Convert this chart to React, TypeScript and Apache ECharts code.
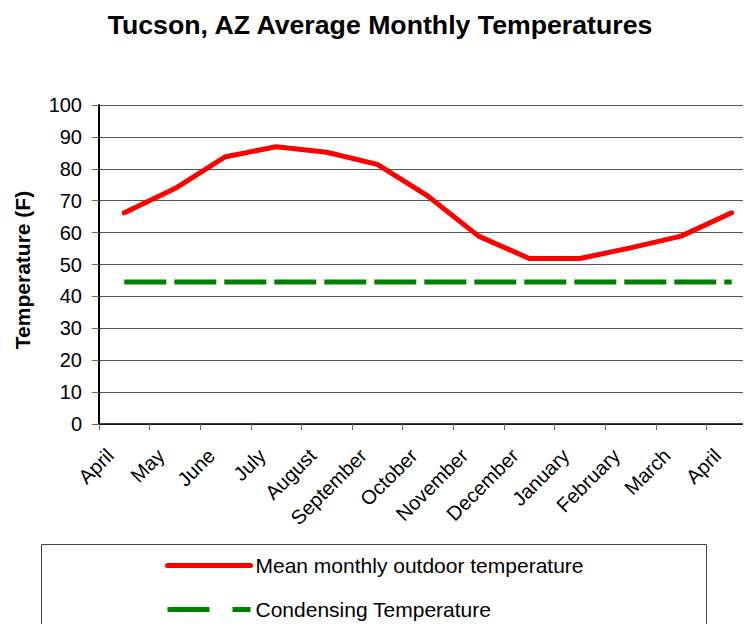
import React, { useEffect, useRef } from "react";
import * as echarts from "echarts";

const categories = [
  "April", "May", "June", "July", "August", "September", "October",
  "November", "December", "January", "February", "March", "April",
];
const meanTemps = [66.2, 73.8, 83.8, 86.9, 85.2, 81.4, 71.4, 58.9, 51.9, 51.9, 55.2, 58.9, 66.2];
const condensingTemps = [44.5, 44.5, 44.5, 44.5, 44.5, 44.5, 44.5, 44.5, 44.5, 44.5, 44.5, 44.5, 44.5];
const yTicks = { min: 0, max: 100, interval: 10 };

const FONT = "'Liberation Sans', Arial, Helvetica, sans-serif";

export default function App() {
  const ref = useRef<HTMLDivElement>(null);
  useEffect(() => {
    if (!ref.current) return;
    const chart = echarts.init(ref.current, null, { renderer: "svg" });
    chart.setOption({
      animation: false,
      backgroundColor: "#ffffff",
      textStyle: { fontFamily: FONT },
      title: {
        text: "Tucson, AZ Average Monthly Temperatures",
        left: 375,
        textAlign: "center",
        top: 6,
        textStyle: { fontFamily: FONT, fontSize: 26.7, fontWeight: "bold", color: "#000" },
      },
      grid: { left: 99, right: -6, top: 105, bottom: 208, containLabel: false, outerBoundsMode: "none" },
      xAxis: {
        type: "category",
        data: categories,
        boundaryGap: true,
        axisLine: { lineStyle: { color: "#000", width: 1.5 } },
        axisTick: { show: true, interval: 0, length: 6, lineStyle: { color: "#666" } },
        axisLabel: {
          interval: 0,
          rotate: 45,
          margin: 14,
          fontSize: 20,
          color: "#000",
          fontFamily: FONT,
          padding: [0, 20, 0, 0],
        },
        splitLine: { show: false },
      },
      yAxis: {
        type: "value",
        min: yTicks.min,
        max: yTicks.max,
        interval: yTicks.interval,
        name: "Temperature (F)",
        nameLocation: "middle",
        nameRotate: 90,
        nameGap: 66,
        nameMoveOverlap: false,
        nameTextStyle: {
          fontFamily: FONT,
          fontSize: 21,
          fontWeight: "bold",
          color: "#000",
          padding: [0, 11, 0, 0],
        },
        axisLine: { show: true, lineStyle: { color: "#000", width: 2 } },
        axisTick: { show: true, length: 7, lineStyle: { color: "#666" } },
        axisLabel: { fontSize: 20, color: "#000", margin: 17, fontFamily: FONT },
        splitLine: { show: true, lineStyle: { color: "#555", width: 1 } },
      },
      legend: {
        orient: "vertical",
        left: 165,
        top: 555,
        padding: 0,
        itemWidth: 83,
        itemHeight: 21,
        itemGap: 23,
        icon: "inherit",
        textStyle: { fontFamily: FONT, fontSize: 21, color: "#000" },
        lineStyle: { width: 5 },
        itemStyle: { opacity: 0 },
        data: [
          {
            name: "Mean monthly outdoor temperature",
            icon: "inherit",
            itemStyle: { opacity: 0 },
            lineStyle: { width: 5, type: "solid", cap: "round" },
          },
          {
            name: "Condensing Temperature",
            icon: "inherit",
            itemStyle: { opacity: 0 },
            lineStyle: { width: 5, type: [42, 23], cap: "butt" },
          },
        ],
      },
      graphic: [
        {
          type: "rect",
          shape: { x: 41.5, y: 544.5, width: 665, height: 120 },
          style: { fill: "none", stroke: "#444", lineWidth: 1 },
          silent: true,
        },
      ],
      series: [
        {
          name: "Mean monthly outdoor temperature",
          type: "line",
          data: meanTemps,
          symbol: "none",
          lineStyle: { color: "#ff0000", width: 5, cap: "round", join: "round" },
          itemStyle: { color: "#ff0000" },
        },
        {
          name: "Condensing Temperature",
          type: "line",
          data: condensingTemps,
          symbol: "none",
          lineStyle: { color: "#008000", width: 5, type: [42, 8], cap: "butt" },
          itemStyle: { color: "#008000" },
        },
      ],
    });
    return () => chart.dispose();
  }, []);
  return <div ref={ref} style={{ width: 751, height: 632, margin: -8 }} />;
}
